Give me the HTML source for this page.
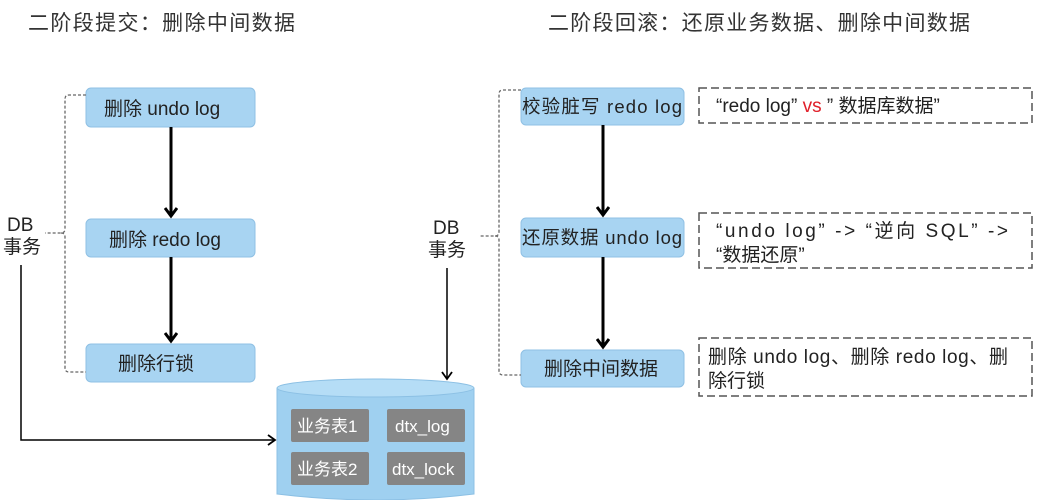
<!DOCTYPE html>
<html><head><meta charset="utf-8"><style>
body{margin:0;background:#fff;}
svg{display:block;}
text{font-family:"Liberation Sans","Noto Sans CJK SC",sans-serif;}
</style></head><body>
<svg width="1052" height="500" viewBox="0 0 1052 500" xmlns="http://www.w3.org/2000/svg">
<defs>
<marker id="ah" markerWidth="12" markerHeight="14" refX="9" refY="7" orient="auto" markerUnits="userSpaceOnUse" viewBox="0 0 12 14">
<path d="M1,1 L9,7 L1,13" fill="none" stroke="#000" stroke-width="3"/></marker>
<marker id="ah3" markerWidth="10" markerHeight="12" refX="8" refY="6" orient="auto" markerUnits="userSpaceOnUse" viewBox="0 0 10 12">
<path d="M1,1 L8,6 L1,11" fill="none" stroke="#000" stroke-width="1.8"/></marker>
</defs>
<rect width="1052" height="500" fill="#fff"/>
<text x="28" y="30" font-size="21" fill="#333" textLength="267">二阶段提交：删除中间数据</text>
<text x="548" y="30" font-size="21" fill="#333" textLength="422">二阶段回滚：还原业务数据、删除中间数据</text>

<g fill="#a8d4f2" stroke="#8fc0e4">
<rect x="86" y="88" width="169" height="39" rx="5"/>
<rect x="86" y="219" width="169" height="38" rx="5"/>
<rect x="86" y="344" width="169" height="38" rx="5"/>
<rect x="521" y="88" width="163" height="37" rx="5"/>
<rect x="521" y="218" width="163" height="39" rx="5"/>
<rect x="521" y="350" width="163" height="37" rx="5"/>
</g>
<g font-size="19" fill="#222">
<text x="104" y="115">删除 undo log</text>
<text x="109" y="246">删除 redo log</text>
<text x="118" y="370">删除行锁</text>
<text x="522" y="113" font-size="18.5" textLength="160">校验脏写 redo log</text>
<text x="522" y="244" font-size="18.5" textLength="160">还原数据 undo log</text>
<text x="544" y="375">删除中间数据</text>
</g>
<g stroke="#000" stroke-width="3">
<line x1="171" y1="127" x2="171" y2="216" marker-end="url(#ah)"/>
<line x1="171" y1="257" x2="171" y2="341" marker-end="url(#ah)"/>
<line x1="603" y1="125" x2="603" y2="215" marker-end="url(#ah)"/>
<line x1="603" y1="257" x2="603" y2="347" marker-end="url(#ah)"/>
</g>
<g fill="none" stroke="#666" stroke-width="1.3" stroke-dasharray="3,2">
<path d="M86,95 H69 Q65,95 65,99 V229 Q65,233 61,233 H45 M61,233 Q65,233 65,237 V368 Q65,372 69,372 H86"/>
<path d="M521,90 H503 Q499,90 499,94 V232 Q499,236 495,236 H480 M495,236 Q499,236 499,240 V371 Q499,375 503,375 H521"/>
</g>
<g font-size="19" fill="#222">
<text x="7" y="231">DB</text>
<text x="3" y="253">事务</text>
<text x="433" y="234">DB</text>
<text x="428" y="256">事务</text>
</g>
<g stroke="#000" stroke-width="1.5" fill="none">
<path d="M21,265 V440 H275" marker-end="url(#ah3)"/>
<line x1="447" y1="268" x2="447" y2="379" marker-end="url(#ah3)"/>
</g>
<path d="M277,388 V494 Q375,506 474,494 V388" fill="#9fd0f0" stroke="#8cc0e4"/>
<ellipse cx="375.5" cy="388" rx="98.5" ry="9" fill="#b5ddf6" stroke="#8cc0e4"/>
<g fill="#858585">
<rect x="291" y="409" width="78" height="33" rx="2"/>
<rect x="387" y="409" width="78" height="33" rx="2"/>
<rect x="291" y="452" width="78" height="33" rx="2"/>
<rect x="387" y="452" width="78" height="33" rx="2"/>
</g>
<g font-size="17" fill="#fff">
<text x="297" y="432">业务表1</text>
<text x="395" y="432">dtx_log</text>
<text x="297" y="475">业务表2</text>
<text x="392" y="475">dtx_lock</text>
</g>
<g fill="none" stroke="#555" stroke-width="1.5" stroke-dasharray="8,4">
<rect x="699" y="88" width="333" height="35"/>
<rect x="699" y="213" width="333" height="55"/>
<rect x="699" y="338" width="333" height="58"/>
</g>
<g font-size="19" fill="#222">
<text x="716" y="112">“redo log” <tspan fill="#e0202a">vs</tspan> ” 数据库数据”</text>
<text x="716" y="237" textLength="292">“undo log” -&gt; “逆向 SQL” -&gt;</text>
<text x="716" y="261">“数据还原”</text>
<text x="708" y="363" textLength="300">删除 undo log、删除 redo log、删</text>
<text x="708" y="387">除行锁</text>
</g>
</svg>
</body></html>
